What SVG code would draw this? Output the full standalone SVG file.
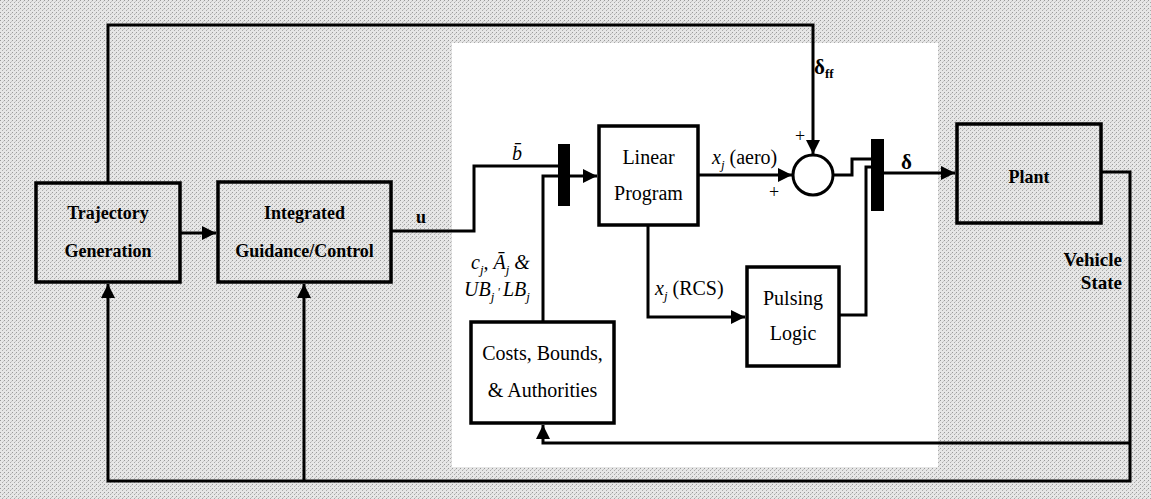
<svg xmlns="http://www.w3.org/2000/svg" width="1151" height="499" viewBox="0 0 1151 499">
<defs>
<pattern id="dither" width="4" height="4" patternUnits="userSpaceOnUse">
<rect width="4" height="4" fill="#e6e6e6"/>
<rect x="0" y="0" width="1" height="1" fill="#9a9a9a"/>
<rect x="2" y="2" width="1" height="1" fill="#aaaaaa"/>
<rect x="3" y="1" width="1" height="1" fill="#c8c8c8"/>
</pattern>
<marker id="arr" markerUnits="userSpaceOnUse" markerWidth="16" markerHeight="14" refX="14" refY="7" orient="auto">
<path d="M0,0 L14,7 L0,14 Z" fill="#000"/>
</marker>
</defs>
<style>
.box{fill:none;stroke:#000;stroke-width:3.5}
.wire{fill:none;stroke:#000;stroke-width:3}
.tb{font-family:"Liberation Serif","Times New Roman",serif;font-weight:bold;font-size:18px;fill:#000}
.tr{font-family:"Liberation Serif","Times New Roman",serif;font-size:20px;fill:#000}
.ti{font-family:"Liberation Serif","Times New Roman",serif;font-style:italic;font-size:20px;fill:#000}
.sm{font-family:"Liberation Serif","Times New Roman",serif;font-size:18px;fill:#000}
.big{font-size:21px}
.vs{font-size:19px}
.sub{font-size:13px}
.mid{text-anchor:middle}
</style>
<rect width="1151" height="499" fill="url(#dither)"/>
<rect x="452" y="43" width="486" height="424" fill="#fff"/>

<g id="connectors">
<polyline class="wire" points="108,183 108,25 813,25 813,154" marker-end="url(#arr)"/>
<line class="wire" x1="180" y1="233" x2="216" y2="233" marker-end="url(#arr)"/>
<polyline class="wire" points="391,231 474,231 474,166 558,166"/>
<polyline class="wire" points="543,322 543,176 558,176"/>
<line class="wire" x1="570" y1="176" x2="597" y2="176" marker-end="url(#arr)"/>
<line class="wire" x1="698" y1="175" x2="792" y2="175" marker-end="url(#arr)"/>
<polyline class="wire" points="833,175 852,175 852,159 871,159"/>
<polyline class="wire" points="839,315 866,315 866,167 871,167"/>
<line class="wire" x1="884" y1="173" x2="955" y2="173" marker-end="url(#arr)"/>
<polyline class="wire" points="648,225 648,317 745,317" marker-end="url(#arr)"/>
<polyline class="wire" points="1101,172 1130,172 1130,481 108,481 108,284" marker-end="url(#arr)"/>
<line class="wire" x1="304" y1="481" x2="304" y2="284" marker-end="url(#arr)"/>
<polyline class="wire" points="1130,443 543,443 543,425" marker-end="url(#arr)"/>
</g>

<g id="trajectory-generation">
<rect class="box" x="36" y="183" width="144" height="99"/>
<text class="tb mid" x="108" y="219">Trajectory</text>
<text class="tb mid" x="108" y="257">Generation</text>
</g>

<g id="integrated-guidance">
<rect class="box" x="218" y="182" width="173" height="100"/>
<text class="tb mid" x="304.5" y="219">Integrated</text>
<text class="tb mid" x="304.5" y="257">Guidance/Control</text>
</g>

<g id="mux1">
<rect x="558" y="144" width="12" height="62" fill="#000"/>
</g>

<g id="linear-program">
<rect class="box" x="599" y="126" width="99" height="99"/>
<text class="tr mid" x="648.5" y="164">Linear</text>
<text class="tr mid" x="648.5" y="200">Program</text>
</g>

<g id="sum">
<circle cx="813" cy="175" r="20" fill="#fff" stroke="#000" stroke-width="3"/>
</g>

<g id="mux2">
<rect x="871" y="139" width="13" height="72" fill="#000"/>
</g>

<g id="plant">
<rect class="box" x="957" y="124" width="144" height="99"/>
<text class="tb mid" x="1029" y="183">Plant</text>
</g>

<g id="costs-bounds">
<rect class="box" x="471" y="322" width="143" height="101"/>
<text class="tr mid" x="542.5" y="360">Costs, Bounds,</text>
<text class="tr mid" x="542.5" y="397">&amp; Authorities</text>
</g>

<g id="pulsing-logic">
<rect class="box" x="747" y="267" width="92" height="99"/>
<text class="tr mid" x="793" y="305">Pulsing</text>
<text class="tr mid" x="793" y="340">Logic</text>
</g>

<g id="labels">
<text class="tb" x="416" y="223">u</text>
<text class="ti" x="512" y="160">b&#x304;</text>
<text class="ti" x="712" y="164">x<tspan class="sub" dy="5">j</tspan><tspan dy="-5" style="font-style:normal"> (aero)</tspan></text>
<text class="sm" x="795" y="142">+</text>
<text class="sm" x="769" y="198">+</text>
<text class="tb big" x="814" y="74">δ<tspan class="sub" dy="4">ff</tspan></text>
<text class="tb big" x="901" y="169">δ</text>
<text class="ti" x="655" y="295">x<tspan class="sub" dy="5">j</tspan><tspan dy="-5" style="font-style:normal"> (RCS)</tspan></text>
<text class="ti" x="471" y="269">c<tspan class="sub" dy="5">j</tspan><tspan dy="-5">, Ā</tspan><tspan class="sub" dy="5">j</tspan><tspan dy="-5"> &amp;</tspan></text>
<text class="ti" x="464" y="296">UB<tspan class="sub" dy="5">j</tspan><tspan dy="-5" style="font-size:12px"> ' </tspan>LB<tspan class="sub" dy="5">j</tspan></text>
<text class="tb vs" x="1122" y="266" text-anchor="end">Vehicle</text>
<text class="tb vs" x="1122" y="289" text-anchor="end">State</text>
</g>
</svg>
